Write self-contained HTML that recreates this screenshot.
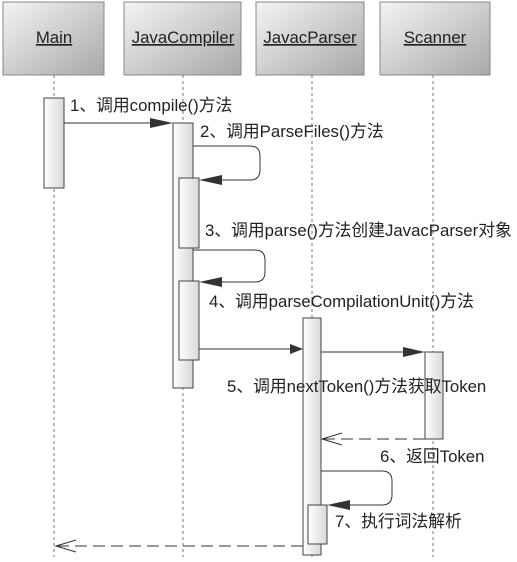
<!DOCTYPE html>
<html><head><meta charset="utf-8"><style>
body{margin:0;background:#fff;}
svg text{font-family:"Liberation Sans","Noto Sans CJK SC",sans-serif;font-size:16.8px;fill:#222;}
</style></head><body>
<svg width="517" height="557" xmlns="http://www.w3.org/2000/svg">
<defs>
<linearGradient id="hg" x1="0" y1="0" x2="1" y2="1"><stop offset="0" stop-color="#f4f4f4"/><stop offset="1" stop-color="#a8a8a8"/></linearGradient>
<linearGradient id="ag" x1="0" y1="0" x2="1" y2="0"><stop offset="0" stop-color="#fff"/><stop offset="1" stop-color="#d8d8d8"/></linearGradient>
</defs>
<g stroke="#888" stroke-width="1">
<rect x="3" y="2" width="101" height="73" fill="url(#hg)"/>
<rect x="124" y="2" width="117" height="73" fill="url(#hg)"/>
<rect x="256" y="2" width="108" height="73" fill="url(#hg)"/>
<rect x="380" y="2" width="110" height="73" fill="url(#hg)"/>
</g>
<g text-anchor="middle">
<text x="54" y="43" text-decoration="underline">Main</text>
<text x="183" y="43" text-decoration="underline">JavaCompiler</text>
<text x="310" y="43" text-decoration="underline">JavacParser</text>
<text x="435" y="43" text-decoration="underline">Scanner</text>
</g>
<g stroke="#777" stroke-dasharray="3,3">
<line x1="54" y1="75" x2="54" y2="557"/><line x1="183" y1="75" x2="183" y2="557"/>
<line x1="312" y1="75" x2="312" y2="557"/><line x1="433" y1="75" x2="433" y2="557"/>
</g>
<g stroke="#444" fill="url(#ag)">
<rect x="44" y="98" width="20" height="90"/>
<rect x="173" y="123" width="20" height="265"/>
<rect x="179" y="178" width="20" height="70"/>
<rect x="179" y="281" width="20" height="79"/>
<rect x="303" y="318" width="18" height="237"/>
<rect x="308" y="505" width="19" height="39"/>
<rect x="425" y="352" width="18" height="87"/>
</g>
<g stroke="#333" fill="none">
<line x1="64" y1="123" x2="160" y2="123"/>
<path d="M193 146 H250 Q260 146 260 156 V170 Q260 180 250 180 H212"/>
<path d="M193 250 H255 Q265 250 265 260 V272 Q265 282 255 282 H212"/>
<line x1="199" y1="349" x2="292" y2="349"/>
<line x1="321" y1="352" x2="414" y2="352"/>
<line x1="425" y1="439" x2="322" y2="439" stroke-dasharray="12,6"/>
<polyline points="342,433 322,439 342,445"/>
<path d="M321 471 H382 Q392 471 392 481 V495 Q392 505 382 505 H340"/>
<line x1="303" y1="546" x2="56" y2="546" stroke-dasharray="12,6"/>
<polyline points="76,540 56,546 76,552"/>
</g>
<g fill="#333">
<polygon points="150,118 173,123 150,128"/>
<polygon points="222,175 199,180 222,185"/>
<polygon points="222,277 199,282 222,287"/>
<polygon points="290,344 303,349 290,354"/>
<polygon points="403,347 425,352 403,357"/>
<polygon points="350,500 327,505 350,510"/>
</g>
<text x="70" y="111">1、调用compile()方法</text>
<text x="200" y="137">2、调用ParseFiles()方法</text>
<text x="205" y="236">3、调用parse()方法创建JavacParser对象</text>
<text x="209" y="307">4、调用parseCompilationUnit()方法</text>
<text x="227" y="392">5、调用nextToken()方法获取Token</text>
<text x="380" y="462">6、返回Token</text>
<text x="335" y="527">7、执行词法解析</text>
</svg>
</body></html>
